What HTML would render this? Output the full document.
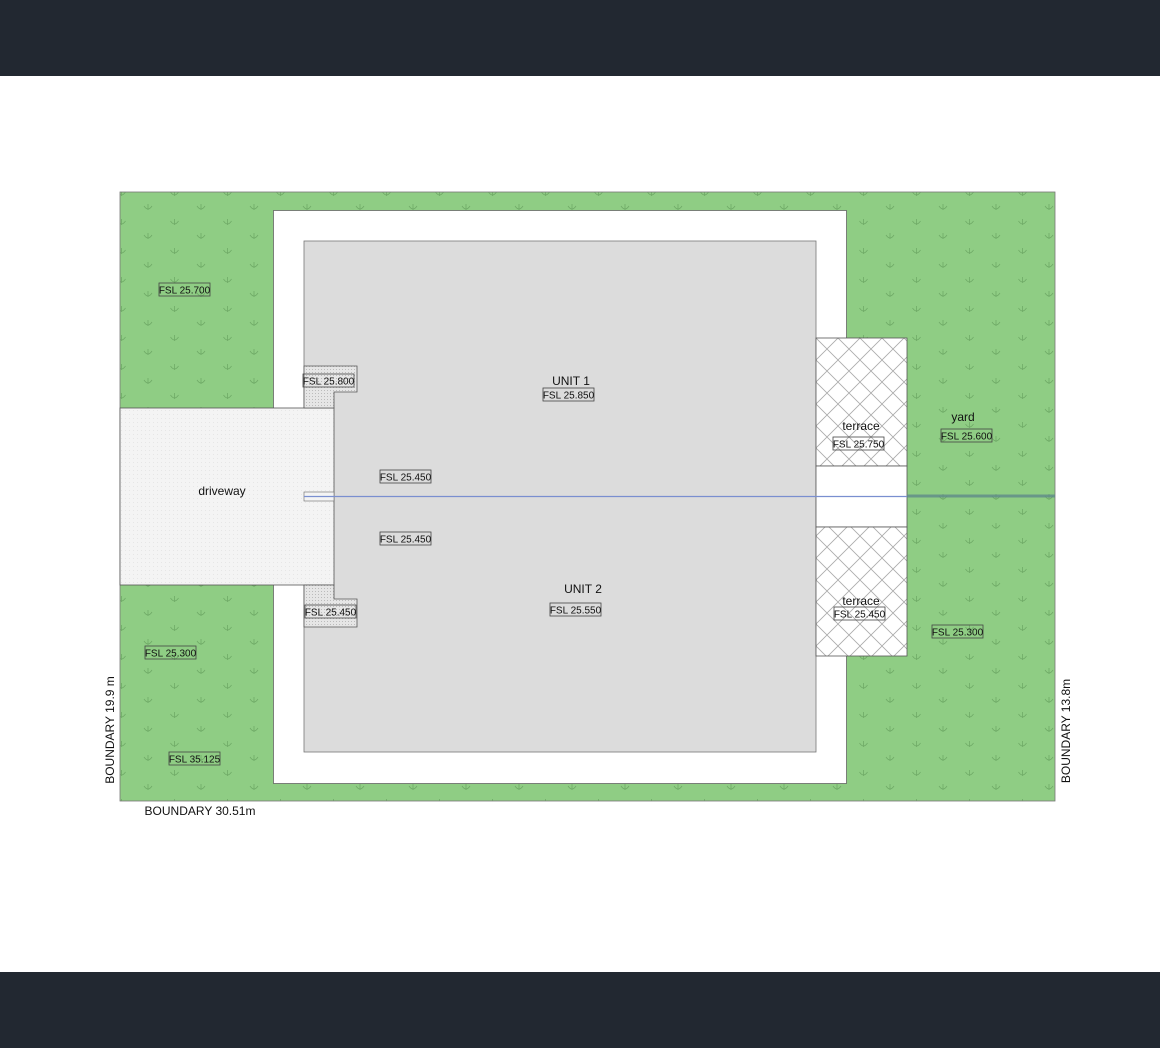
<!DOCTYPE html>
<html><head><style>
html,body{margin:0;padding:0;background:#fff;}
body{width:1160px;height:1048px;position:relative;overflow:hidden;font-family:"Liberation Sans",sans-serif;}
.bar{position:absolute;left:0;width:1160px;background:#222831;}
</style></head><body>
<div class="bar" style="top:0;height:76px"></div>
<div class="bar" style="top:972px;height:76px"></div>
<svg width="1160" height="1048" style="position:absolute;left:0;top:0" font-family="Liberation Sans, sans-serif">
<defs>
<pattern id="grass" x="120" y="192" width="53" height="29" patternUnits="userSpaceOnUse">
<rect width="53" height="29" fill="#8fcd84"/>
<g stroke="#6faa66" stroke-width="0.8" fill="none">
<path d="M28 18 v-6 M24 14 q4 6 8 0"/>
<path d="M1.5 4 v-6 M-2.5 0 q4 6 8 0 M54.5 4 v-6 M50.5 0 q4 6 8 0"/>
<path d="M1.5 33 v-6 M-2.5 29 q4 6 8 0 M54.5 33 v-6 M50.5 29 q4 6 8 0"/>
</g>
</pattern>
<pattern id="hatch" x="816" y="338" width="22" height="22" patternUnits="userSpaceOnUse">
<rect width="22" height="22" fill="#fff"/>
<path d="M0 0 L22 22 M22 0 L0 22" stroke="#aaa" stroke-width="0.8"/>
</pattern>
<pattern id="dots" width="3" height="3" patternUnits="userSpaceOnUse">
<rect width="3" height="3" fill="#e6e6e6"/>
<rect width="1" height="1" fill="#bbb"/>
</pattern>
<pattern id="dw" width="4" height="4" patternUnits="userSpaceOnUse">
<rect width="4" height="4" fill="#f4f4f4"/>
<rect x="1" y="2" width="1" height="1" fill="#e6e6e6"/>
</pattern>
</defs>
<rect x="120" y="192" width="935" height="609" fill="url(#grass)" stroke="#777" stroke-width="0.8"/>
<rect x="273.5" y="210.5" width="573" height="573" fill="#fff" stroke="#666" stroke-width="0.8"/>
<rect x="304" y="241" width="512" height="511" fill="#dcdcdc" stroke="#777" stroke-width="0.8"/>
<rect x="120" y="408" width="214" height="177" fill="url(#dw)" stroke="#555" stroke-width="0.8"/>
<rect x="304" y="492" width="30" height="9" fill="#f4f4f4" stroke="#666" stroke-width="0.6"/>
<path d="M304 366 H357 V392 H334 V408 H304 Z" fill="url(#dots)" stroke="#555" stroke-width="0.8"/>
<path d="M304 627 H357 V599 H334 V585 H304 Z" fill="url(#dots)" stroke="#555" stroke-width="0.8"/>
<rect x="816" y="338" width="91" height="128" fill="url(#hatch)" stroke="#555" stroke-width="0.8"/>
<rect x="816" y="466" width="91" height="61" fill="#fff" stroke="#555" stroke-width="0.8"/>
<rect x="816" y="527" width="91" height="129" fill="url(#hatch)" stroke="#555" stroke-width="0.8"/>
<line x1="304" y1="496.5" x2="907" y2="496.5" stroke="#7a8fd0" stroke-width="1.2"/>
<line x1="907" y1="496" x2="1055" y2="496" stroke="#5f8a8a" stroke-width="3" opacity="0.8"/>
<g font-size="10" fill="#111">
<g fill="none" stroke-width="0.8">
<rect x="159" y="283" width="51" height="13" stroke="#444"/>
<rect x="303" y="374" width="51" height="13" stroke="#444"/>
<rect x="543" y="388" width="51" height="13" stroke="#444"/>
<rect x="380" y="470" width="51" height="13" stroke="#444"/>
<rect x="380" y="532" width="51" height="13" stroke="#444"/>
<rect x="550" y="603" width="51" height="13" stroke="#444"/>
<rect x="305" y="605" width="51" height="13" stroke="#444"/>
<rect x="833" y="437" width="51" height="13" stroke="#444"/>
<rect x="834" y="607" width="51" height="13" stroke="#444"/>
<rect x="941" y="429" width="51" height="13" stroke="#444"/>
<rect x="932" y="625" width="51" height="13" stroke="#444"/>
<rect x="145" y="646" width="51" height="13" stroke="#444"/>
<rect x="169" y="752" width="51" height="13" stroke="#444"/>
</g>
<text x="184.5" y="293.5" text-anchor="middle">FSL 25.700</text>
<text x="328.5" y="384.5" text-anchor="middle">FSL 25.800</text>
<text x="568.5" y="398.5" text-anchor="middle">FSL 25.850</text>
<text x="405.5" y="480.5" text-anchor="middle">FSL 25.450</text>
<text x="405.5" y="542.5" text-anchor="middle">FSL 25.450</text>
<text x="575.5" y="613.5" text-anchor="middle">FSL 25.550</text>
<text x="330.5" y="615.5" text-anchor="middle">FSL 25.450</text>
<text x="858.5" y="447.5" text-anchor="middle">FSL 25.750</text>
<text x="859.5" y="617.5" text-anchor="middle">FSL 25.450</text>
<text x="966.5" y="439.5" text-anchor="middle">FSL 25.600</text>
<text x="957.5" y="635.5" text-anchor="middle">FSL 25.300</text>
<text x="170.5" y="656.5" text-anchor="middle">FSL 25.300</text>
<text x="194.5" y="762.5" text-anchor="middle">FSL 35.125</text>
</g>
<g font-size="12" fill="#111" text-anchor="middle">
<text x="571" y="385">UNIT 1</text>
<text x="583" y="593">UNIT 2</text>
<text x="222" y="495">driveway</text>
<text x="861" y="430">terrace</text>
<text x="861" y="605">terrace</text>
<text x="963" y="421">yard</text>
<text x="200" y="815">BOUNDARY 30.51m</text>
<text transform="translate(114,730) rotate(-90)">BOUNDARY 19.9 m</text>
<text transform="translate(1070,731) rotate(-90)">BOUNDARY 13.8m</text>
</g>
</svg>
</body></html>
